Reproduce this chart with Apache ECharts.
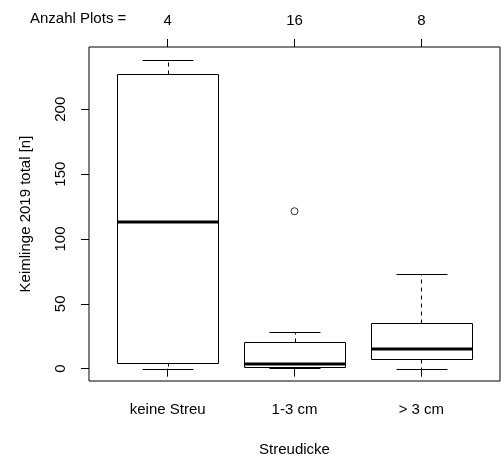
<!DOCTYPE html>
<html>
<head>
<meta charset="utf-8">
<script src="https://cdn.jsdelivr.net/npm/echarts@6/dist/echarts.min.js"></script>
<style>
  html, body { margin: 0; padding: 0; background: #fff; }
  #chart { width: 501px; height: 459px; }
</style>
</head>
<body>
<div id="chart"></div>
<script>
// Seedling counts per litter-depth class
const categories = ['keine Streu', '1-3 cm', '> 3 cm'];
const plotCounts = [4, 16, 8];
const whiskerLow = [0, 0.4, 0];
const quartile1 = [4.8, 1.2, 7.3];
const medians = [112.9, 3.5, 14.8];
const quartile3 = [227.4, 20.2, 34.9];
const whiskerHigh = [237.7, 28.4, 72.7];
const outlierGroup = [2];
const outlierValue = [121.4];
const yTicks = [0, 50, 100, 150, 200];

const FONT = 'Liberation Sans, Arial, sans-serif';
const positions = categories.map((c, i) => i + 1);

const boxData = positions.map((p, i) => [p, whiskerLow[i], quartile1[i], medians[i], quartile3[i], whiskerHigh[i]]);
const outlierData = outlierGroup.map((g, i) => [g, outlierValue[i]]);

const px = v => Math.round(v) + 0.5;

function renderBox(params, api) {
  const x = api.value(0);
  const lo = api.coord([x, api.value(1)]);
  const b1 = api.coord([x, api.value(2)]);
  const md = api.coord([x, api.value(3)]);
  const b3 = api.coord([x, api.value(4)]);
  const hi = api.coord([x, api.value(5)]);
  const left = api.coord([x - 0.4, 0])[0];
  const right = api.coord([x + 0.4, 0])[0];
  const capL = api.coord([x - 0.2, 0])[0];
  const capR = api.coord([x + 0.2, 0])[0];
  const cx = px(lo[0]);
  const line = { stroke: '#000', lineWidth: 1 };
  const dashed = { stroke: '#000', lineWidth: 1, lineDash: [4, 4] };
  return {
    type: 'group',
    children: [
      { type: 'line', shape: { x1: cx, y1: px(b3[1]), x2: cx, y2: px(hi[1]) }, style: dashed },
      { type: 'line', shape: { x1: cx, y1: px(b1[1]), x2: cx, y2: px(lo[1]) }, style: dashed },
      { type: 'line', shape: { x1: px(capL), y1: px(hi[1]), x2: px(capR), y2: px(hi[1]) }, style: line },
      { type: 'line', shape: { x1: px(capL), y1: px(lo[1]), x2: px(capR), y2: px(lo[1]) }, style: line },
      { type: 'rect', shape: { x: px(left), y: px(b3[1]), width: Math.round(right - left), height: Math.round(b1[1] - b3[1]) },
        style: { fill: '#fff', stroke: '#000', lineWidth: 1 } },
      { type: 'line', shape: { x1: px(left), y1: Math.round(md[1]), x2: px(right), y2: Math.round(md[1]) },
        style: { stroke: '#000', lineWidth: 3 } }
    ]
  };
}

const chart = echarts.init(document.getElementById('chart'));
chart.setOption({
  animation: false,
  backgroundColor: '#fff',
  grid: { left: 89, right: 1, top: 47, bottom: 78, containLabel: false, outerBoundsMode: 'none',
    show: true, borderColor: '#000', borderWidth: 1, backgroundColor: 'transparent' },
  xAxis: [
    {
      type: 'value', min: 0.38, max: 3.62, position: 'bottom',
      name: 'Streudicke', nameLocation: 'middle', nameGap: 61,
      nameTextStyle: { fontFamily: FONT, fontSize: 15, color: '#000' },
      axisLine: { show: false }, splitLine: { show: false },
      axisTick: { show: true, customValues: positions, length: 8, lineStyle: { color: '#000' } },
      axisLabel: { customValues: positions, margin: 21, fontFamily: FONT, fontSize: 15, color: '#000',
        formatter: v => categories[Math.round(v) - 1] }
    },
    {
      type: 'value', min: 0.38, max: 3.62, position: 'top',
      axisLine: { show: false }, splitLine: { show: false },
      axisTick: { show: true, customValues: positions, length: 8, lineStyle: { color: '#000' } },
      axisLabel: { customValues: positions, margin: 19, fontFamily: FONT, fontSize: 15, color: '#000',
        formatter: v => String(plotCounts[Math.round(v) - 1]) }
    }
  ],
  yAxis: {
    type: 'value', min: -9.5, max: 248,
    name: 'Keimlinge 2019 total [n]', nameLocation: 'middle', nameGap: 56, nameRotate: 90,
    nameTextStyle: { fontFamily: FONT, fontSize: 15, color: '#000' },
    axisLine: { show: false }, splitLine: { show: false },
    axisTick: { show: true, customValues: yTicks, length: 8, lineStyle: { color: '#000' } },
    axisLabel: { customValues: yTicks, rotate: 90, margin: 21, fontFamily: FONT, fontSize: 15, color: '#000' }
  },
  graphic: [
    { type: 'text', left: 30, top: 11, style: { text: 'Anzahl Plots =', fontFamily: FONT, fontSize: 15, fill: '#000' } }
  ],
  series: [
    { type: 'custom', xAxisIndex: 0, renderItem: renderBox, data: boxData, z: 2 },
    { type: 'scatter', xAxisIndex: 0, data: outlierData, symbol: 'circle', symbolSize: 7,
      itemStyle: { color: '#fff', borderColor: '#000', borderWidth: 1 }, z: 3 }
  ]
});
</script>
</body>
</html>
